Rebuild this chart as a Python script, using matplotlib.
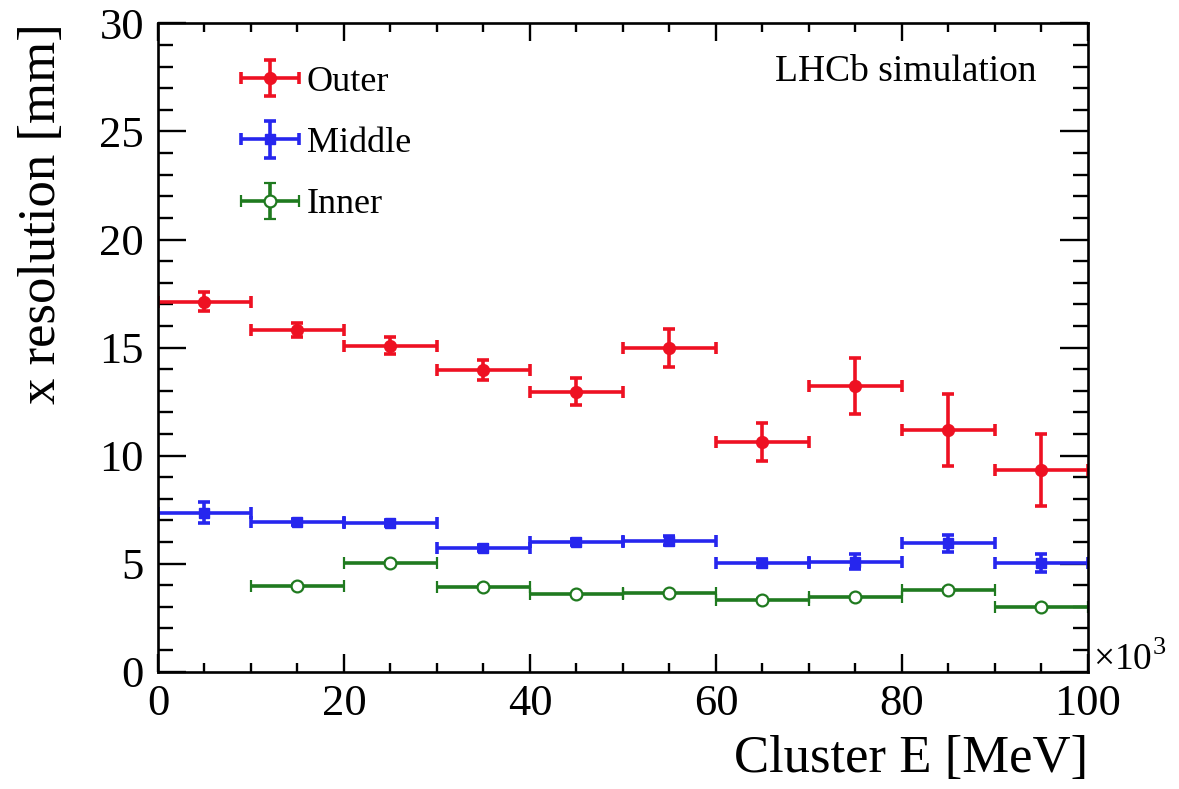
import numpy as np
import matplotlib
matplotlib.use("Agg")
import matplotlib.pyplot as plt
from matplotlib.ticker import MultipleLocator
from matplotlib.container import ErrorbarContainer
from matplotlib.legend_handler import HandlerErrorbar

plt.rcParams['font.family'] = ['Liberation Serif', 'DejaVu Serif']
plt.rcParams['mathtext.fontset'] = 'custom'
plt.rcParams['mathtext.rm'] = 'Liberation Serif'

# cluster energy bins, in units of 10^3 MeV
E_centre = [5, 15, 25, 35, 45, 55, 65, 75, 85, 95]
E_half = 5

outer_res = [17.13, 15.82, 15.08, 13.97, 12.96, 15.00, 10.62, 13.23, 11.20, 9.34]
outer_err = [0.42, 0.33, 0.40, 0.47, 0.64, 0.88, 0.87, 1.30, 1.66, 1.68]

middle_res = [7.36, 6.93, 6.88, 5.71, 5.99, 6.06, 5.03, 5.09, 5.94, 5.02]
middle_err = [0.48, 0.14, 0.14, 0.14, 0.14, 0.20, 0.20, 0.36, 0.40, 0.42]

# no inner-region entry in the first bin
inner_E = [15, 25, 35, 45, 55, 65, 75, 85, 95]
inner_res = [3.97, 5.05, 3.91, 3.58, 3.63, 3.32, 3.44, 3.78, 3.01]
inner_err = [0.08, 0.08, 0.08, 0.08, 0.08, 0.08, 0.08, 0.08, 0.08]

red = '#ee1122'
blue = '#2626ee'
green = '#1f7a1f'

fig = plt.figure(figsize=(11.79, 7.89), dpi=100)
ax = fig.add_axes([0.1340, 0.1487, 0.7888, 0.8216])

lw = 2.6
ax.errorbar(E_centre, outer_res, xerr=E_half, yerr=outer_err, fmt='o',
            color=red, ms=8.5, lw=lw, capsize=4.5, capthick=lw, label='Outer')
ax.errorbar(E_centre, middle_res, xerr=E_half, yerr=middle_err, fmt='s',
            color=blue, ms=7.5, lw=lw, capsize=4.5, capthick=lw, label='Middle')
ax.errorbar(inner_E, inner_res, xerr=E_half, yerr=inner_err, fmt='o',
            color=green, mfc='white', mec=green, mew=1.6, ms=8.5, lw=lw,
            capsize=4.5, capthick=lw, label='Inner')

ax.set_xlim(0, 100)
ax.set_ylim(0, 30)

ax.xaxis.set_major_locator(MultipleLocator(20))
ax.xaxis.set_minor_locator(MultipleLocator(5))
ax.yaxis.set_major_locator(MultipleLocator(5))
ax.yaxis.set_minor_locator(MultipleLocator(1))

for s in ax.spines.values():
    s.set_linewidth(1.9)

ax.tick_params(axis='both', which='both', direction='in', top=True, right=True,
               width=1.7, labelsize=32)
ax.tick_params(axis='x', which='major', length=13, pad=9)
ax.tick_params(axis='x', which='minor', length=6.5)
ax.tick_params(axis='y', which='major', length=20, pad=10)
ax.tick_params(axis='y', which='minor', length=10.5)

ax.set_xlabel('Cluster E [MeV]', fontsize=38, loc='right', labelpad=8)
ax.set_ylabel('x resolution [mm]', fontsize=38, loc='top', labelpad=24)

ax.text(1.005, 0.003, r'$\times$10$^{\mathrm{3}}$', transform=ax.transAxes,
        fontsize=27, ha='left', va='baseline')

ax.text(0.945, 0.925, 'LHCb simulation', transform=ax.transAxes,
        fontsize=27, ha='right', va='center')

ax.legend(loc='upper left', bbox_to_anchor=(0.07, 0.957), frameon=False,
          fontsize=26, handlelength=1.8, handletextpad=0.12, labelspacing=0.77,
          borderaxespad=0.0,
          handler_map={ErrorbarContainer: HandlerErrorbar(xerr_size=0.8, yerr_size=0.5)})

fig.savefig('out.png', dpi=100)
